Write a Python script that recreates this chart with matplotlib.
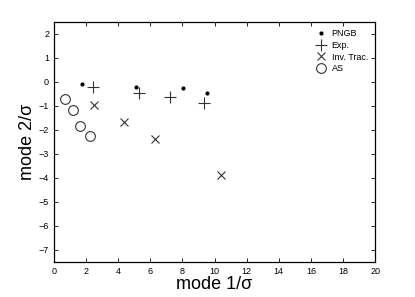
import matplotlib
matplotlib.use("Agg")
import matplotlib.pyplot as plt

# data
pngb_x = [1.74, 5.1, 8.04, 9.53]
pngb_y = [-0.08, -0.2, -0.27, -0.46]
exp_x = [2.43, 5.3, 7.23, 9.35]
exp_y = [-0.2, -0.45, -0.62, -0.87]
inv_x = [2.49, 4.36, 6.29, 10.4]
inv_y = [-0.96, -1.67, -2.38, -3.87]
as_x = [0.69, 1.18, 1.62, 2.24]
as_y = [-0.71, -1.17, -1.83, -2.25]

x_ticks = list(range(0, 21, 2))
y_ticks = list(range(-7, 3))

plt.rcParams["font.family"] = ["Liberation Sans", "DejaVu Sans"]

fig = plt.figure(figsize=(4.15, 2.97), dpi=100)
ax = fig.add_axes([0.130, 0.118, 0.774, 0.808])

ax.plot(pngb_x, pngb_y, ".", color="black", markersize=4, label="PNGB")
ax.plot(exp_x, exp_y, "+", color="#333333", markersize=8, markeredgewidth=0.8, label="Exp.")
ax.plot(inv_x, inv_y, "x", color="#333333", markersize=5.5, markeredgewidth=0.8, label="Inv. Trac.")
ax.plot(as_x, as_y, "o", markerfacecolor="none", markeredgecolor="#333333",
        markersize=7, markeredgewidth=0.8, label="AS")

ax.set_xlim(0, 20)
ax.set_ylim(-7.5, 2.5)
ax.set_xticks(x_ticks)
ax.set_yticks(y_ticks)
ax.tick_params(direction="in", top=True, right=True, labelsize=6.5, length=3, width=0.6)

ax.set_xlabel("mode 1/σ", fontsize=13, labelpad=0)
ax.set_ylabel("mode 2/σ", fontsize=13, labelpad=2)

for sp in ax.spines.values():
    sp.set_linewidth(0.9)

ax.legend(loc="upper right", frameon=False, fontsize=6.5, handlelength=1.2,
          handletextpad=0.6, labelspacing=0.3, borderaxespad=0.4)

plt.savefig("out.png", dpi=100)
plt.close()
